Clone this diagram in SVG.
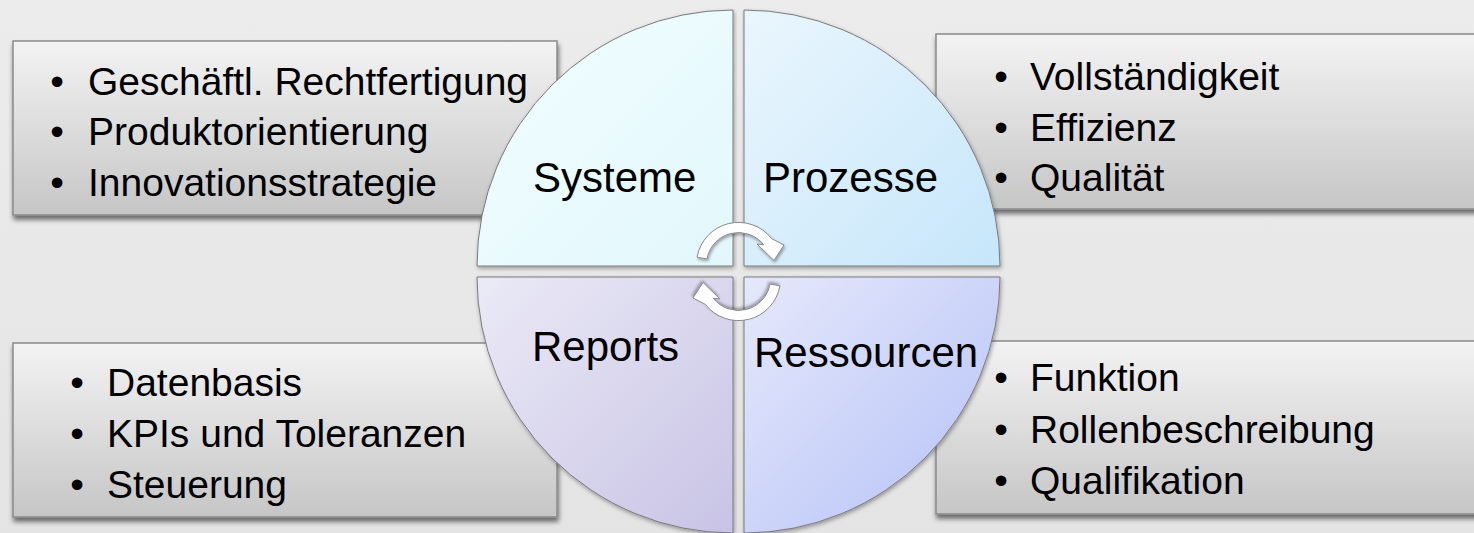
<svg xmlns="http://www.w3.org/2000/svg" width="1474" height="533" viewBox="0 0 1474 533">
  <defs>
    <linearGradient id="bg" x1="0" y1="0" x2="0" y2="1">
      <stop offset="0" stop-color="#ececec"/>
      <stop offset="1" stop-color="#e4e4e4"/>
    </linearGradient>
    <linearGradient id="boxFill" x1="0" y1="0" x2="0" y2="1">
      <stop offset="0" stop-color="#f3f3f3"/>
      <stop offset="1" stop-color="#c6c6c6"/>
    </linearGradient>
    <linearGradient id="gSys" x1="0" y1="0" x2="1" y2="1">
      <stop offset="0" stop-color="#f2feff"/>
      <stop offset="1" stop-color="#e2f7fc"/>
    </linearGradient>
    <linearGradient id="gPro" x1="0" y1="0" x2="1" y2="1">
      <stop offset="0" stop-color="#eaf6fd"/>
      <stop offset="1" stop-color="#c6e6fa"/>
    </linearGradient>
    <linearGradient id="gRep" x1="0" y1="0" x2="1" y2="1">
      <stop offset="0" stop-color="#ebeaf6"/>
      <stop offset="1" stop-color="#c8c3e5"/>
    </linearGradient>
    <linearGradient id="gRes" x1="0" y1="0" x2="1" y2="1">
      <stop offset="0" stop-color="#e6e8fb"/>
      <stop offset="1" stop-color="#b3c1f6"/>
    </linearGradient>
    <filter id="boxShadow" x="-5%" y="-10%" width="110%" height="125%">
      <feGaussianBlur in="SourceAlpha" stdDeviation="2.5"/>
      <feOffset dx="1" dy="4" result="b"/>
      <feComponentTransfer><feFuncA type="linear" slope="0.55"/></feComponentTransfer>
      <feMerge><feMergeNode/><feMergeNode in="SourceGraphic"/></feMerge>
    </filter>
    <filter id="quadShadow" x="-5%" y="-5%" width="110%" height="110%">
      <feGaussianBlur in="SourceAlpha" stdDeviation="2"/>
      <feOffset dx="1" dy="2" result="b"/>
      <feComponentTransfer><feFuncA type="linear" slope="0.35"/></feComponentTransfer>
      <feMerge><feMergeNode/><feMergeNode in="SourceGraphic"/></feMerge>
    </filter>
    <filter id="arrowShadow" x="-20%" y="-20%" width="140%" height="140%">
      <feGaussianBlur in="SourceAlpha" stdDeviation="1.5"/>
      <feOffset dx="1" dy="2" result="b"/>
      <feComponentTransfer><feFuncA type="linear" slope="0.35"/></feComponentTransfer>
      <feMerge><feMergeNode/><feMergeNode in="SourceGraphic"/></feMerge>
    </filter>
    <path id="cycleArrow" class="arrow" d="M697.1,257.2 A42,42 0 0 1 771.6,238.6 L784,245 L774,260.5 L757,244 L763.7,244.8 A32,32 0 0 0 707,258.9 Z"/>
  </defs>
  <style>
    .box { fill: url(#boxFill); stroke: #8a8a8a; stroke-width: 1.5; filter: url(#boxShadow); }
    .quad { stroke: #7a7a7a; stroke-width: 1; filter: url(#quadShadow); }
    .item { font-family: "Liberation Sans", Arial, sans-serif; font-size: 39px; fill: #000; }
    .bullet { font-family: "Liberation Sans", Arial, sans-serif; font-size: 39px; fill: #000; text-anchor: middle; }
    .label { font-family: "Liberation Sans", Arial, sans-serif; font-size: 42px; fill: #000; }
    .arrow { fill: #ffffff; stroke: #8a8a8a; stroke-width: 1; filter: url(#arrowShadow); }
  </style>

  <rect x="0" y="0" width="1474" height="533" fill="url(#bg)"/>

  <g id="box-systeme">
    <rect class="box" x="13" y="41" width="544" height="174"/>
    <text class="bullet" x="57" y="95">•</text><text class="item" x="88" y="95">Geschäftl. Rechtfertigung</text>
    <text class="bullet" x="57" y="145">•</text><text class="item" x="88" y="145">Produktorientierung</text>
    <text class="bullet" x="57" y="196">•</text><text class="item" x="88" y="196">Innovationsstrategie</text>
  </g>

  <g id="box-prozesse">
    <rect class="box" x="936" y="34" width="560" height="175"/>
    <text class="bullet" x="1001" y="90">•</text><text class="item" x="1030" y="90">Vollständigkeit</text>
    <text class="bullet" x="1001" y="141">•</text><text class="item" x="1030" y="141">Effizienz</text>
    <text class="bullet" x="1001" y="191">•</text><text class="item" x="1030" y="191">Qualität</text>
  </g>

  <g id="box-reports">
    <rect class="box" x="13" y="343" width="544" height="174"/>
    <text class="bullet" x="77" y="396">•</text><text class="item" x="107" y="396">Datenbasis</text>
    <text class="bullet" x="77" y="447">•</text><text class="item" x="107" y="447">KPIs und Toleranzen</text>
    <text class="bullet" x="77" y="498">•</text><text class="item" x="107" y="498">Steuerung</text>
  </g>

  <g id="box-ressourcen">
    <rect class="box" x="936" y="341" width="560" height="173"/>
    <text class="bullet" x="1001" y="391">•</text><text class="item" x="1030" y="391">Funktion</text>
    <text class="bullet" x="1001" y="443">•</text><text class="item" x="1030" y="443">Rollenbeschreibung</text>
    <text class="bullet" x="1001" y="494">•</text><text class="item" x="1030" y="494">Qualifikation</text>
  </g>

  <g id="quadrant-systeme">
    <path class="quad" fill="url(#gSys)" d="M733,266 L477,266 A256,256 0 0 1 733,10 Z"/>
    <text class="label" x="533" y="192">Systeme</text>
  </g>
  <g id="quadrant-prozesse">
    <path class="quad" fill="url(#gPro)" d="M744,266 L744,10 A256,256 0 0 1 1000,266 Z"/>
    <text class="label" x="763" y="192">Prozesse</text>
  </g>
  <g id="quadrant-reports">
    <path class="quad" fill="url(#gRep)" d="M733,277 L733,533 A256,256 0 0 1 477,277 Z"/>
    <text class="label" x="532" y="361">Reports</text>
  </g>
  <g id="quadrant-ressourcen">
    <path class="quad" fill="url(#gRes)" d="M744,277 L1000,277 A256,256 0 0 1 744,533 Z"/>
    <text class="label" x="754" y="367">Ressourcen</text>
  </g>

  <g id="connectors">
    <use href="#cycleArrow"/>
    <use href="#cycleArrow" transform="rotate(180 738.5 271.5)"/>
  </g>
</svg>
